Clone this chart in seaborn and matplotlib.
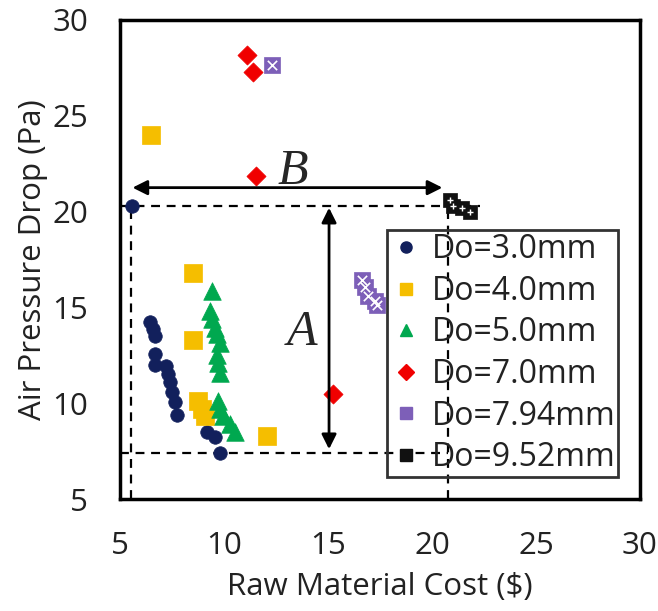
import matplotlib
matplotlib.use("Agg")
import matplotlib.pyplot as plt
from matplotlib.lines import Line2D
import seaborn as sns
import pandas as pd

# ---- data ----
d30_x = [5.56, 6.44, 6.59, 6.68, 6.68, 6.68, 7.21, 7.31, 7.40, 7.50, 7.64, 7.74, 9.18, 9.57, 9.81]
d30_y = [20.3, 14.25, 13.85, 13.5, 12.55, 12.0, 11.95, 11.5, 11.1, 10.6, 10.05, 9.4, 8.5, 8.25, 7.4]
d40_x = [6.48, 8.53, 8.53, 8.77, 8.93, 9.09, 12.05]
d40_y = [24.0, 16.8, 13.3, 10.1, 9.7, 9.35, 8.3]
d50_x = [9.41, 9.33, 9.41, 9.57, 9.65, 9.81, 9.65, 9.73, 9.81, 9.73, 9.81, 9.97, 10.29, 10.53]
d50_y = [15.85, 14.8, 14.4, 13.95, 13.6, 13.15, 12.5, 12.1, 11.6, 10.1, 9.7, 9.35, 8.9, 8.5]
d70_x = [11.12, 11.41, 11.55, 15.26]
d70_y = [28.15, 27.3, 21.85, 10.5]
d794_x = [12.29, 16.62, 16.78, 16.94, 17.26, 17.34]
d794_y = [27.65, 16.45, 16.05, 15.6, 15.35, 15.1]
d952_x = [20.87, 21.03, 21.43, 21.83]
d952_y = [20.6, 20.3, 20.2, 20.0]

labels = ["Do=3.0mm", "Do=4.0mm", "Do=5.0mm", "Do=7.0mm", "Do=7.94mm", "Do=9.52mm"]
xs = [d30_x, d40_x, d50_x, d70_x, d794_x, d952_x]
ys = [d30_y, d40_y, d50_y, d70_y, d794_y, d952_y]
colors = ["#12205c", "#f5be00", "#00a84f", "#f00000", "#7d5fb8", "#111111"]
markers = ["o", "s", "^", "D", "s", "s"]
sizes = [95, 150, 160, 95, 130, 95]

xticks = [5, 10, 15, 20, 25, 30]
yticks = [5, 10, 15, 20, 25, 30]

rows = []
for lab, xx, yy in zip(labels, xs, ys):
    for a, b in zip(xx, yy):
        rows.append({"cost": a, "dp": b, "Do": lab})
df = pd.DataFrame(rows)

sns.set_style("white")
plt.rcParams["font.family"] = ["Open Sans", "DejaVu Sans"]

fig = plt.figure(figsize=(6.58, 6.11), dpi=100)
ax = fig.add_axes([0.1824, 0.1833, 0.7902, 0.784])

for lab, c, m, s in zip(labels, colors, markers, sizes):
    sub = df[df["Do"] == lab]
    sns.scatterplot(data=sub, x="cost", y="dp", ax=ax, color=c, marker=m,
                    s=s, edgecolor=c, linewidth=0.5, legend=False, zorder=3)

# pattern overlays for the textured markers
sub = df[df["Do"] == "Do=7.94mm"]
sns.scatterplot(data=sub, x="cost", y="dp", ax=ax, color="white", marker="x",
                s=45, linewidth=1.2, legend=False, zorder=4)
sub = df[df["Do"] == "Do=9.52mm"]
sns.scatterplot(data=sub, x="cost", y="dp", ax=ax, color="white", marker="+",
                s=25, linewidth=1.0, legend=False, zorder=4)

# dashed reference lines
dk = dict(color="black", linestyle=(0, (4, 3)), linewidth=1.6, zorder=2)
ax.plot([5, 22.3], [20.3, 20.3], **dk)
ax.plot([5, 20.77], [7.4, 7.4], **dk)
ax.plot([5.55, 5.55], [5, 20.3], **dk)
ax.plot([20.77, 20.77], [5, 20.6], **dk)

# arrows A and B
ak = dict(arrowstyle="<|-|>", color="black", lw=2.0, mutation_scale=22, shrinkA=0, shrinkB=0)
ax.annotate("", xy=(5.6, 21.25), xytext=(20.5, 21.25), arrowprops=ak, zorder=5)
ax.annotate("", xy=(15.05, 20.2), xytext=(15.05, 7.6), arrowprops=ak, zorder=5)
ax.text(13.3, 22.1, "B", fontsize=36, style="italic", family="Liberation Serif",
        ha="center", va="center")
ax.text(13.75, 13.7, "A", fontsize=36, style="italic", family="Liberation Serif",
        ha="center", va="center")

ax.set_xlim(5, 30)
ax.set_ylim(5, 30)
ax.set_xticks(xticks)
ax.set_yticks(yticks)
ax.set_xticklabels([str(v) for v in xticks])
ax.set_yticklabels([str(v) for v in yticks])
ax.tick_params(direction="in", length=7, width=1.5, labelsize=22.5, pad=23,
               colors="black", labelcolor="#222222")
ax.set_xlabel("Raw Material Cost ($)", fontsize=22.5, color="#222222", labelpad=8)
ax.set_ylabel("Air Pressure Drop (Pa)", fontsize=22.5, color="#222222", labelpad=3)
for sp in ax.spines.values():
    sp.set_visible(True)
    sp.set_color("black")
    sp.set_linewidth(2.5)

handles = []
for lab, c, m in zip(labels, colors, markers):
    handles.append(Line2D([], [], linestyle="none", marker=m, color=c,
                          markersize=8 if m != "^" else 9, markeredgecolor=c))
leg = ax.legend(handles=handles, labels=labels, loc="upper left",
                bbox_to_anchor=(0.513, 0.5616), fontsize=23, frameon=True,
                handletextpad=0.3, labelspacing=0.27, borderpad=0.1,
                handlelength=1.0, borderaxespad=0, fancybox=False)
fr = leg.get_frame()
fr.set_facecolor("none")
fr.set_edgecolor("#333333")
fr.set_linewidth(2.0)
fr.set_alpha(None)
for t in leg.get_texts():
    t.set_color("#222222")
leg.set_zorder(6)

fig.savefig("out.png", dpi=100)
